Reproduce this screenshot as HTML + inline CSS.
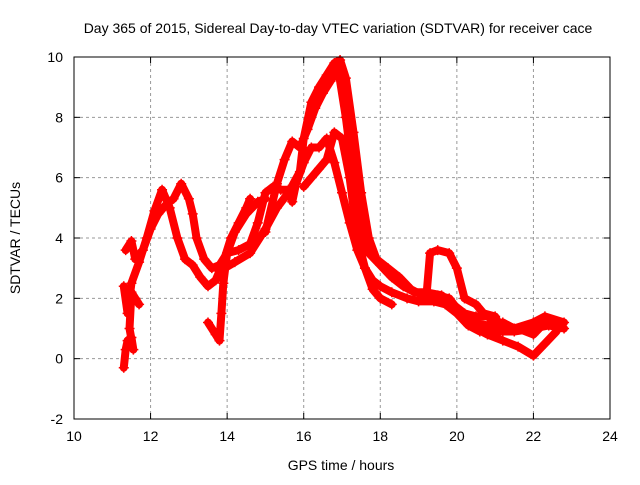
<!DOCTYPE html>
<html><head><meta charset="utf-8"><style>
body{margin:0;background:#fff}
svg text{font-family:"Liberation Sans",sans-serif;font-size:14px;fill:#000}
</style></head><body>
<svg id="chart" width="640" height="480" viewBox="0 0 640 480" xmlns="http://www.w3.org/2000/svg">
<text x="338" y="33" text-anchor="middle">Day 365 of 2015, Sidereal Day-to-day VTEC variation (SDTVAR) for receiver cace</text>
<text x="341" y="470" text-anchor="middle">GPS time / hours</text>
<text x="20" y="238" text-anchor="middle" transform="rotate(-90 20 238)">SDTVAR / TECUs</text>
<g id="grid"></g>
<g id="series"></g>
<rect x="74" y="57" width="536" height="362" fill="none" stroke="#000" stroke-width="1"/>
</svg>
<script>
const xTicks=[10,12,14,16,18,20,22,24];
const yTicks=[-2,0,2,4,6,8,10];
const track1=[[11.3,2.4],[11.4,1.5],[11.5,2.5],[11.7,3.2],[11.9,4.0],[12.1,4.9],[12.3,5.6],[12.5,5.0],[12.7,4.0],[12.9,3.3],[13.1,3.1],[13.3,2.7],[13.5,2.4],[13.7,2.6],[13.9,3.2],[14.1,4.0],[14.3,4.5],[14.5,5.0],[14.6,5.3]];
const track2=[[11.35,3.6],[11.5,3.9],[11.6,3.3],[11.8,3.6],[12.0,4.3],[12.2,4.8],[12.4,5.1],[12.6,5.3],[12.8,5.8],[13.0,5.3],[13.1,4.8],[13.2,4.0],[13.4,3.3],[13.6,3.0],[13.8,3.1],[14.0,3.5],[14.3,3.6],[14.6,3.8],[14.8,4.5],[15.0,5.5],[15.2,5.7],[15.4,5.6],[15.6,5.6],[15.7,5.2],[15.8,5.8],[16.0,6.5],[16.2,7.0],[16.4,7.0],[16.6,7.3],[16.8,6.5],[17.0,5.5],[17.2,4.5],[17.4,3.6],[17.6,3.0],[17.8,2.6],[18.0,2.4],[18.3,2.2],[18.7,2.0],[19.0,1.9],[19.4,1.9],[19.7,1.8],[20.0,1.5],[20.3,1.1],[20.6,0.9],[21.0,0.9],[21.5,0.9],[22.0,1.0],[22.4,1.1],[22.8,1.0]];
const track3=[[13.8,2.9],[14.2,3.2],[14.6,3.5],[15.0,4.3],[15.3,5.0],[15.6,5.5],[15.9,6.2],[16.0,7.3],[16.2,8.5],[16.4,9.0],[16.6,9.4],[16.8,9.8],[16.95,9.9],[17.1,9.3],[17.3,7.5],[17.5,5.5],[17.7,4.0],[17.9,3.3],[18.2,3.0],[18.5,2.7],[18.8,2.3],[19.1,2.1],[19.5,2.1],[19.8,2.0],[20.1,1.5],[20.4,1.2],[20.8,1.1],[21.2,1.2],[21.5,1.0],[22.0,1.2],[22.3,1.4],[22.8,1.2]];
const track4=[[15.0,4.2],[15.3,5.8],[15.5,6.6],[15.7,7.2],[15.9,7.0],[16.1,7.6],[16.3,8.3],[16.5,8.8],[16.7,9.2],[16.9,9.6],[17.1,8.0],[17.3,6.0],[17.5,4.3],[17.7,3.5],[18.0,3.1],[18.3,2.7],[18.6,2.4],[18.9,2.2],[19.2,2.2],[19.6,2.1],[19.9,1.8],[20.2,1.5],[20.5,1.4],[20.8,1.4],[21.2,1.1],[21.6,1.0],[22.0,0.8],[22.3,1.2]];
const track5=[[16.0,5.7],[16.2,6.0],[16.4,6.3],[16.6,6.6],[16.8,7.5],[17.0,7.3],[17.2,6.0],[17.4,4.0],[17.6,3.0],[17.8,2.3],[18.0,2.0],[18.3,1.8]];
const track6=[[19.8,1.9],[20.2,1.4],[20.5,1.0],[20.8,0.8],[21.2,0.6],[21.6,0.4],[22.0,0.1],[22.3,0.5],[22.6,0.9]];
const track7=[[19.2,2.0],[19.3,3.5],[19.5,3.6],[19.8,3.5],[20.0,3.0],[20.2,2.0],[20.5,1.8],[20.7,1.5],[21.0,1.4],[21.2,0.9]];
const track8=[[11.3,-0.3],[11.35,0.3],[11.4,0.6],[11.5,0.7],[11.55,0.3],[11.45,1.0],[11.5,2.2],[11.6,2.0],[11.7,1.8]];
const track9=[[13.5,1.2],[13.7,0.8],[13.8,0.6],[13.85,1.5],[13.9,2.5],[14.0,3.5],[14.2,4.2],[14.5,4.8],[14.8,5.2],[15.0,5.3]];
const tracks=[track1,track2,track3,track4,track5,track6,track7,track8,track9];

const NS='http://www.w3.org/2000/svg';
const X=h=>74+(h-10)*(536/14);
const Y=v=>57+(10-v)*(362/12);
const grid=document.getElementById('grid');
function mk(tag,attrs,parent){const e=document.createElementNS(NS,tag);for(const k in attrs)e.setAttribute(k,attrs[k]);parent.appendChild(e);return e;}
xTicks.forEach(t=>{
  const x=X(t);
  if(t>10&&t<24){const g=mk('line',{x1:x,x2:x,y1:57,y2:419,stroke:'#999','stroke-dasharray':'3,3'},grid);
  
  }
  mk('line',{x1:x,x2:x,y1:419,y2:413,stroke:'#000'},grid);
  mk('line',{x1:x,x2:x,y1:57,y2:63,stroke:'#000'},grid);
  const l=mk('text',{x:x,y:441,'text-anchor':'middle'},grid);l.textContent=t;
  
  
});
yTicks.forEach(t=>{
  const y=Y(t);
  if(t>-2&&t<10){const g=mk('line',{x1:74,x2:610,y1:y,y2:y,stroke:'#999','stroke-dasharray':'3,3'},grid);
  
  }
  mk('line',{x1:74,x2:80,y1:y,y2:y,stroke:'#000'},grid);
  mk('line',{x1:604,x2:610,y1:y,y2:y,stroke:'#000'},grid);
  const l=mk('text',{x:63,y:y+5,'text-anchor':'end'},grid);l.textContent=t;
  
  
});
const series=document.getElementById('series');
tracks.forEach((tr,i)=>{
  const p=mk('polyline',{points:tr.map(d=>X(d[0])+','+Y(d[1])).join(' '),fill:'none',stroke:'#f00','stroke-width':8,'stroke-linejoin':'round','stroke-linecap':'round'},series);
  
  
  tr.forEach(d=>{
    const x=X(d[0]),y=Y(d[1]);
    const m=mk('path',{d:`M${x-5},${y}H${x+5}M${x},${y-5}V${y+5}`,stroke:'#f00','stroke-width':1.5},series);
    
    
  });
});
</script>
</body></html>
